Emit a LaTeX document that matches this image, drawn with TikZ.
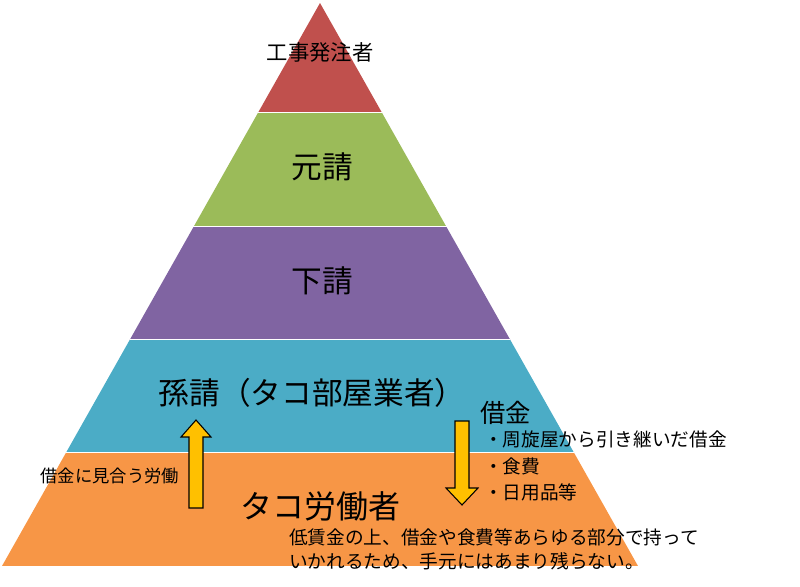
\documentclass[tikz,border=0pt]{standalone}
\usepackage{fontspec}
\setmainfont{Noto Sans CJK JP}
\begin{document}
\begin{tikzpicture}[x=0.75pt,y=-0.75pt,
  tier/.style={draw=white,line width=1.5pt},
  arr/.style={draw=black,line width=0.8pt,fill={rgb,255:red,255;green,192;blue,0}},
  txt/.style={inner sep=0pt,text=black}]
\useasboundingbox (0,0) rectangle (800,586);
\def\hw#1{(#1-3)/563*318}
\foreach \a/\b/\c in {3/113/C0504D,113/227/9BBB59,227/340/8064A2,340/453/4BACC6,453/567/F79646}{
  \definecolor{tc}{HTML}{\c}
  \fill[tc] ({320-\hw{\a}},\a) -- ({320+\hw{\a}},\a) -- ({320+\hw{\b}},\b) -- ({320-\hw{\b}},\b) -- cycle;
  \draw[white,line width=1.5pt] ({320-\hw{\b}},\b) -- ({320+\hw{\b}},\b);
}
\node[txt,font=\fontsize{16}{18}\selectfont] (t1) at (320,52) {工事発注者};
\node[txt,font=\fontsize{23}{26}\selectfont] (t2) at (322,167) {元請};
\node[txt,font=\fontsize{23}{26}\selectfont] (t3) at (322,281) {下請};
\node[txt,font=\fontsize{23}{26}\selectfont] (t4) at (312,393) {孫請（タコ部屋業者）};
\node[txt,font=\fontsize{24}{26}\selectfont] (t5) at (320,506) {タコ労働者};
\node[txt,font=\fontsize{19}{22}\selectfont,anchor=west] (debt) at (480,413) {借金};
\node[txt,font=\fontsize{14}{16}\selectfont,anchor=west,align=left] (list) at (484,466) {・周旋屋から引き継いだ借金\\[4pt]・食費\\[4pt]・日用品等};
\node[txt,font=\fontsize{13}{15}\selectfont] (lab) at (110,476) {借金に見合う労働};
\node[txt,font=\fontsize{14}{16}\selectfont,anchor=north west,align=left] (note) at (289,528) {低賃金の上、借金や食費等あらゆる部分で持って\\[2pt]いかれるため、手元にはあまり残らない。};
\draw[arr] (196,420) -- (211,437) -- (203,437) -- (203,508) -- (189,508) -- (189,437) -- (181,437) -- cycle;
\draw[arr] (462,505) -- (478,488) -- (469,488) -- (469,421) -- (455,421) -- (455,488) -- (446,488) -- cycle;
\end{tikzpicture}
\end{document}
